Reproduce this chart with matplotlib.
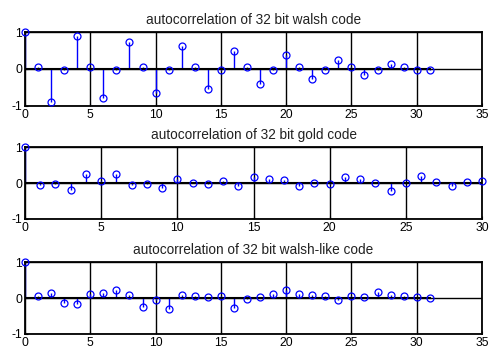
import numpy as np
import matplotlib.pyplot as plt

walsh = [1.0, 0.06, -0.9, -0.02, 0.88, 0.06, -0.78, -0.02, 0.74, 0.06,
         -0.66, -0.02, 0.62, 0.06, -0.53, -0.02, 0.5, 0.06, -0.41, -0.02,
         0.38, 0.06, -0.28, -0.02, 0.25, 0.06, -0.16, -0.02, 0.13, 0.06,
         -0.04, -0.02]
gold = [1.0, -0.05, -0.02, -0.18, 0.26, 0.07, 0.25, -0.06, -0.03, -0.14,
        0.1, 0.0, -0.03, 0.07, -0.08, 0.16, 0.11, 0.08, -0.07, 0.01,
        -0.02, 0.16, 0.11, 0.01, -0.22, 0.01, 0.19, 0.02, -0.07, 0.02,
        0.06]
walsh_like = [1.0, 0.06, 0.13, -0.15, -0.17, 0.11, 0.14, 0.23, 0.09, -0.26,
              -0.05, -0.31, 0.09, 0.06, 0.02, 0.06, -0.28, -0.02, 0.02, 0.11,
              0.22, 0.11, 0.09, 0.07, -0.05, 0.07, 0.02, 0.18, 0.09, 0.07,
              0.02, -0.01]

titles = ["autocorrelation of 32 bit walsh code",
          "autocorrelation of 32 bit gold code",
          "autocorrelation of 32 bit walsh-like code"]
series = [walsh, gold, walsh_like]
xmax = [35, 30, 35]

plt.rcParams['font.family'] = ['Liberation Sans', 'DejaVu Sans']

fig = plt.figure(figsize=(4.9, 3.49), dpi=100)
boxes = [[0.051, 0.6963, 0.9327, 0.212],
         [0.051, 0.3725, 0.9327, 0.206],
         [0.051, 0.043, 0.9327, 0.206]]

for box, y, t, xm in zip(boxes, series, titles, xmax):
    ax = fig.add_axes(box)
    n = np.arange(len(y))
    ax.grid(True, color="black", linewidth=1.0, linestyle="-")
    ax.set_axisbelow(True)
    ml, sl, bl = ax.stem(n, y, linefmt="b-", markerfmt="o", basefmt="k-")
    plt.setp(sl, linewidth=1.0, color="blue")
    plt.setp(ml, markerfacecolor="none", markeredgecolor="blue",
             markersize=5, markeredgewidth=0.9, clip_on=False, zorder=5)
    plt.setp(bl, linewidth=1.5, color="black")
    ax.set_xlim(0, xm)
    ax.set_ylim(-1, 1)
    ax.set_xticks(np.arange(0, xm + 1, 5))
    ax.set_yticks([-1, 0, 1])
    ax.set_yticklabels(["-1", "0", "1"])
    ax.tick_params(direction="in", length=2, labelsize=8.7, pad=2)
    for s in ax.spines.values():
        s.set_linewidth(1.3)
    ax.set_title(t, fontsize=9.8, pad=6, color="#222222")

fig.savefig("out.png", dpi=100)
